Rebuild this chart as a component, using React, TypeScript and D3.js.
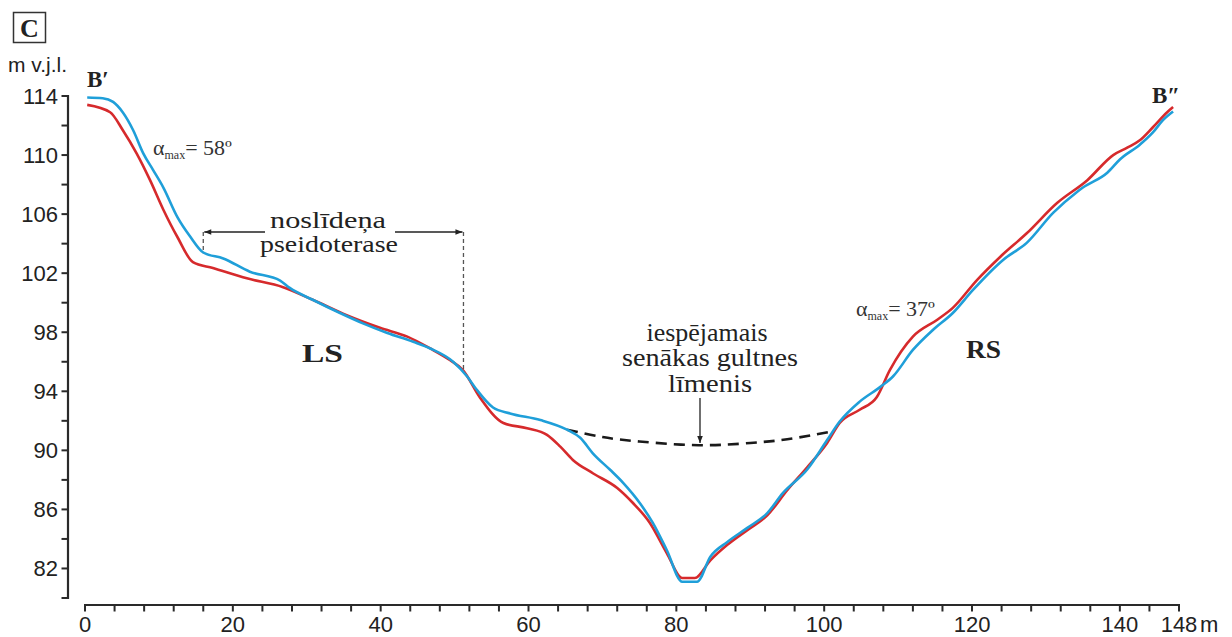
import React from 'react';
import * as d3 from 'd3';

type P = [number, number];

const blueProfile: P[] = [[0.3,113.9],[2.4,113.85],[3.8,113.6],[5.1,112.9],[6.5,111.7],[7.9,110.1],[9.2,109.0],[10.6,107.8],[12.5,105.8],[14.2,104.5],[16.0,103.4],[18.7,103.0],[22.3,102.1],[26.4,101.5],[27.7,101.0],[30.8,100.2],[34.5,99.3],[37.6,98.6],[40.9,97.95],[44.4,97.35],[46.7,96.9],[49.8,96.0],[51.7,95.0],[53.0,94.1],[55.2,92.9],[57.5,92.5],[61.6,92.05],[65.2,91.4],[67.0,90.85],[68.7,89.8],[71.0,88.7],[72.8,87.8],[75.1,86.4],[76.8,85.1],[78.7,83.25],[80.8,81.1],[82.8,81.1],[84.6,82.8],[86.9,83.8],[89.6,84.75],[92.3,85.75],[94.4,87.1],[97.7,88.7],[100.4,90.7],[102.1,91.95],[104.8,93.3],[107.6,94.3],[109.3,95.0],[112.0,96.8],[114.7,98.15],[117.4,99.3],[120.1,100.85],[124.2,102.9],[127.4,104.05],[131.0,106.1],[134.2,107.5],[135.0,107.8],[138.3,108.8],[140.0,109.7],[142.7,110.7],[144.5,111.55],[145.8,112.35],[147.2,112.95]];

const redProfile: P[] = [[0.3,113.4],[3.4,112.9],[5.1,111.7],[7.0,110.1],[8.8,108.3],[10.6,106.3],[12.5,104.45],[14.6,102.75],[17.3,102.35],[21.9,101.65],[26.8,101.05],[30.8,100.2],[35.4,99.15],[39.9,98.3],[43.6,97.7],[46.7,96.9],[49.4,96.1],[51.1,95.45],[53.4,93.6],[56.6,91.85],[59.8,91.5],[62.5,91.05],[64.3,90.25],[66.0,89.35],[68.7,88.45],[72.0,87.45],[74.1,86.45],[76.4,85.1],[78.7,83.05],[80.8,81.35],[82.5,81.35],[84.6,82.55],[86.9,83.6],[89.6,84.6],[92.3,85.6],[95.0,87.3],[97.7,88.85],[100.4,90.5],[102.1,91.85],[104.8,92.75],[107.1,93.6],[108.9,95.45],[112.0,97.7],[115.3,98.85],[117.4,99.65],[120.7,101.55],[123.8,103.1],[127.4,104.7],[131.5,106.75],[135.6,108.3],[139.1,110.0],[141.0,110.5],[142.7,111.0],[144.5,111.9],[146.4,112.9],[147.2,113.25]];

const oldBedLevel: P[] = [[65.2,91.4],[70,90.9],[75,90.6],[83,90.35],[90,90.5],[95,90.75],[101.2,91.3]];

const xTickValues: number[] = [0,4,8,12,16,20,24,28,32,36,40,44,48,52,56,60,64,68,72,76,80,84,88,92,96,100,104,108,112,116,120,124,128,132,136,140,144,148];
const xTickLabels: number[] = [0,20,40,60,80,100,120,140];
const yTickValues: number[] = [80,82,84,86,88,90,92,94,96,98,100,102,104,106,108,110,112,114];
const yTickLabels: number[] = [82,86,90,94,98,102,106,110,114];
const terraceRange: number[] = [16.0, 51.2];

const SERIF = '"Liberation Serif", Tinos, "Times New Roman", Times, serif';
const SANS = '"Liberation Sans", Arial, sans-serif';
const RED = '#d62a2c';
const BLUE = '#1f9fd9';
const AX = '#2a2a2a';

export default function App() {
  const x = d3.scaleLinear().domain([0, 148]).range([85, 1179]);
  const y = d3.scaleLinear().domain([80, 114]).range([598, 96]);
  const line = d3.line<P>().x(d => x(d[0])).y(d => y(d[1])).curve(d3.curveMonotoneX);
  const dashLine = d3.line<P>().x(d => x(d[0])).y(d => y(d[1])).curve(d3.curveNatural);
  const xAxisY = 605;
  const yAxisX = 68;
  const arrowY = 232;
  const tl = x(terraceRange[0]);
  const tr = x(terraceRange[1]);

  return (
    <svg width={1232} height={637} style={{ position: 'absolute', left: 0, top: 0, background: '#fff' }}>
      <defs>
        <marker id="ah" viewBox="0 0 10 10" refX="10" refY="5" markerWidth="9" markerHeight="7" orient="auto-start-reverse" markerUnits="userSpaceOnUse">
          <path d="M0,1 L10,5 L0,9 Z" fill="#222" />
        </marker>
      </defs>

      {/* panel letter */}
      <rect x={13.5} y={12.5} width={32} height={30} fill="none" stroke="#333" strokeWidth={1.5} />
      <text x={29.5} y={37} textAnchor="middle" fontFamily={SERIF} fontWeight="bold" fontSize={26} fill="#222">C</text>

      {/* y axis */}
      <text x={8} y={72} fontFamily={SANS} fontSize={21} fill="#222">m v.j.l.</text>
      <line x1={yAxisX} x2={yAxisX} y1={y(114) - 1} y2={y(80) + 1} stroke={AX} strokeWidth={2.2} />
      {yTickValues.map(v => (
        <line key={'yt' + v} x1={yAxisX - 6.5} x2={yAxisX} y1={y(v)} y2={y(v)} stroke={AX} strokeWidth={2} />
      ))}
      {yTickLabels.map(v => (
        <text key={'yl' + v} x={58} y={y(v) + 8} textAnchor="end" fontFamily={SANS} fontSize={22} fill="#222">{v}</text>
      ))}

      {/* x axis */}
      <line x1={x(0) - 1} x2={x(148) + 1} y1={xAxisY} y2={xAxisY} stroke={AX} strokeWidth={2.2} />
      {xTickValues.map(v => (
        <line key={'xt' + v} x1={x(v)} x2={x(v)} y1={xAxisY} y2={xAxisY + 6.5} stroke={AX} strokeWidth={2} />
      ))}
      {xTickLabels.map(v => (
        <text key={'xl' + v} x={x(v)} y={632} textAnchor="middle" fontFamily={SANS} fontSize={22} fill="#222">{v}</text>
      ))}
      <text x={x(148)} y={632} textAnchor="middle" fontFamily={SANS} fontSize={22} fill="#222">148</text>
      <text x={x(148) + 21} y={632} fontFamily={SANS} fontSize={22} fill="#222">m</text>

      {/* terrace markers */}
      <line x1={tl} x2={tl} y1={arrowY} y2={y(103.35)} stroke="#555" strokeWidth={1.3} strokeDasharray="4,3" />
      <line x1={tr} x2={tr} y1={arrowY} y2={y(95.4)} stroke="#555" strokeWidth={1.3} strokeDasharray="4,3" />
      <line x1={265} x2={tl + 1} y1={arrowY} y2={arrowY} stroke="#222" strokeWidth={1.4} markerEnd="url(#ah)" />
      <line x1={395} x2={tr - 1} y1={arrowY} y2={arrowY} stroke="#222" strokeWidth={1.4} markerEnd="url(#ah)" />
      <text x={328} y={228} textAnchor="middle" fontFamily={SERIF} fontSize={23} fill="#222" textLength={116} lengthAdjust="spacingAndGlyphs">noslīdeņa</text>
      <text x={329} y={252} textAnchor="middle" fontFamily={SERIF} fontSize={23} fill="#222" textLength={138} lengthAdjust="spacingAndGlyphs">pseidoterase</text>

      {/* old bed level */}
      <path d={dashLine(oldBedLevel) || ''} fill="none" stroke="#1a1a1a" strokeWidth={2.6} strokeDasharray="11,7" />
      <line x1={700} x2={700} y1={398} y2={443} stroke="#222" strokeWidth={1.3} markerEnd="url(#ah)" />
      <text x={707} y={341} textAnchor="middle" fontFamily={SERIF} fontSize={25} fill="#222" textLength={121} lengthAdjust="spacingAndGlyphs">iespējamais</text>
      <text x={710} y={366} textAnchor="middle" fontFamily={SERIF} fontSize={25} fill="#222" textLength={176} lengthAdjust="spacingAndGlyphs">senākas gultnes</text>
      <text x={710} y={392} textAnchor="middle" fontFamily={SERIF} fontSize={25} fill="#222" textLength={84} lengthAdjust="spacingAndGlyphs">līmenis</text>

      {/* profiles */}
      <path d={line(redProfile) || ''} fill="none" stroke={RED} strokeWidth={2.6} strokeLinejoin="round" />
      <path d={line(blueProfile) || ''} fill="none" stroke={BLUE} strokeWidth={2.6} strokeLinejoin="round" />

      {/* labels */}
      <text x={87} y={87} fontFamily={SERIF} fontWeight="bold" fontSize={23} fill="#222">B′</text>
      <text x={1152} y={103} fontFamily={SERIF} fontWeight="bold" fontSize={23} fill="#222">B″</text>
      <text x={302} y={362} fontFamily={SERIF} fontWeight="bold" fontSize={25} fill="#222" textLength={41} lengthAdjust="spacingAndGlyphs">LS</text>
      <text x={966} y={358} fontFamily={SERIF} fontWeight="bold" fontSize={25} fill="#222" textLength={35} lengthAdjust="spacingAndGlyphs">RS</text>

      <text x={153} y={155} fontFamily={SERIF} fontSize={22} fill="#333">
        <tspan>α</tspan>
        <tspan fontSize={12} dy={4}>max</tspan>
        <tspan dy={-4}>= 58º</tspan>
      </text>
      <text x={856} y={316} fontFamily={SERIF} fontSize={22} fill="#333">
        <tspan>α</tspan>
        <tspan fontSize={12} dy={4}>max</tspan>
        <tspan dy={-4}>= 37º</tspan>
      </text>
    </svg>
  );
}
